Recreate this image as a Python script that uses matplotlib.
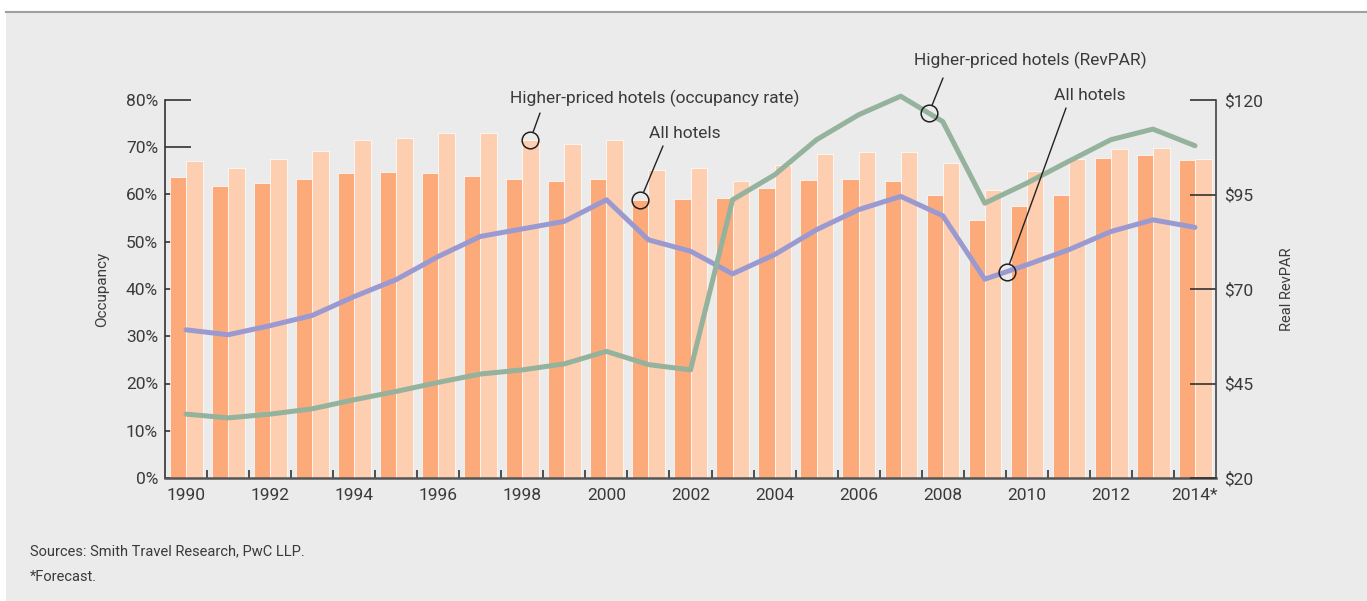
import numpy as np
import matplotlib.pyplot as plt
from matplotlib.patches import Rectangle
from matplotlib.lines import Line2D

plt.rcParams['font.family'] = ['Roboto', 'DejaVu Sans']

anios = list(range(1990, 2015))
etiquetas = ['1990', '1992', '1994', '1996', '1998', '2000', '2002',
             '2004', '2006', '2008', '2010', '2012', '2014*']

# ocupacion (%)
ocup_todos = [63.7, 61.8, 62.4, 63.3, 64.6, 64.8, 64.6, 64.0, 63.3, 62.9,
              63.3, 58.9, 59.1, 59.3, 61.4, 63.1, 63.3, 62.9, 59.9, 54.6,
              57.6, 59.9, 67.8, 68.4, 67.2]
ocup_alto = [67.0, 65.7, 67.6, 69.2, 71.5, 71.9, 73.0, 73.0, 71.6, 70.7,
             71.6, 65.2, 65.7, 62.9, 66.3, 68.6, 68.9, 68.9, 66.6, 61.0,
             65.0, 67.6, 69.7, 69.9, 67.6]

# RevPAR real ($)
revpar_todos = [59.2, 57.9, 60.3, 63.0, 68.0, 72.5, 78.6, 83.9, 85.9, 87.9,
                93.6, 83.0, 80.0, 74.0, 79.1, 85.7, 91.0, 94.5, 89.4, 72.6,
                76.4, 80.4, 85.2, 88.3, 86.3]
revpar_alto = [36.9, 35.9, 36.9, 38.3, 40.7, 42.9, 45.3, 47.5, 48.6, 50.2,
               53.5, 50.0, 48.6, 93.6, 100.2, 109.5, 116.1, 121.0, 114.3, 92.7,
               98.0, 103.8, 109.5, 112.3, 107.9]

c_oscuro = '#fcaa7a'
c_claro = '#fdceb0'
c_azul = '#9a9ad0'
c_verde = '#94b29c'
c_texto = '#3a3a3a'

W, H = 1367, 601
fig = plt.figure(figsize=(W / 100, H / 100), dpi=100, facecolor='white')

# fondo gris con linea superior
fig.patches.append(Rectangle((6 / W, 0), 1 - 6 / W, 1 - 12 / H,
                             transform=fig.transFigure, facecolor='#ebebeb',
                             edgecolor='none', zorder=-10))
fig.lines.append(Line2D([6 / W, 1], [1 - 12 / H, 1 - 12 / H],
                        transform=fig.transFigure, color='#a0a0a0', lw=1.5))

ax = fig.add_axes([165 / W, 1 - 478 / H, (1216 - 165) / W, (478 - 100) / H])
ax.patch.set_visible(False)
x = np.arange(len(anios))

ax.bar(x, ocup_todos, width=-0.385, align='edge', color=c_oscuro,
       edgecolor='white', linewidth=0.5, zorder=2)
ax.bar(x, ocup_alto, width=0.395, align='edge', color=c_claro,
       edgecolor='white', linewidth=0.5, zorder=2)

ax.set_xlim(-0.5, 24.5)
ax.set_ylim(0, 80)
ax.set_axisbelow(True)
for s in ['top', 'right']:
    ax.spines[s].set_visible(False)
ax.spines['left'].set_color('#333333')
ax.spines['left'].set_linewidth(1.2)
ax.spines['bottom'].set_color('#555555')
ax.spines['bottom'].set_linewidth(1.8)

ax.set_yticks(range(0, 81, 10))
ax.set_yticklabels([f'{v}%' for v in range(0, 81, 10)])
ax.tick_params(axis='y', direction='in', length=19, width=1.2,
               color='#333333', labelsize=12.5, labelcolor=c_texto, pad=5)
ax.set_xticks(range(0, 25, 2))
ax.set_xticklabels(etiquetas)
ax.set_xticks(np.arange(0.5, 24, 1), minor=True)
ax.tick_params(axis='x', which='major', length=0, labelsize=12.5,
               labelcolor=c_texto, pad=7)
ax.tick_params(axis='x', which='minor', direction='in', length=6,
               width=1.2, color='#333333')
ax.set_ylabel('Occupancy', fontsize=11, color=c_texto, labelpad=12)

ax2 = ax.twinx()
ax2.set_ylim(20, 120)
ax2.set_xlim(-0.5, 24.5)
for s in ['top', 'left', 'bottom']:
    ax2.spines[s].set_visible(False)
ax2.spines['right'].set_color('#444444')
ax2.spines['right'].set_linewidth(1.2)
ax2.set_yticks([20, 45, 70, 95, 120])
ax2.set_yticklabels(['$20', '$45', '$70', '$95', '$120'])
ax2.tick_params(axis='y', direction='in', length=19, width=1.2,
                color='#333333', labelsize=12.5, labelcolor=c_texto, pad=6)
ax2.set_ylabel('Real RevPAR', fontsize=10.5, color=c_texto, labelpad=12)

ax2.plot(x, revpar_todos, color=c_azul, lw=3.6, solid_capstyle='round',
         solid_joinstyle='round', clip_on=False, zorder=3)
ax2.plot(x, revpar_alto, color=c_verde, lw=3.6, solid_capstyle='round',
         solid_joinstyle='round', clip_on=False, zorder=3)

# marcas de anotacion: (eje, x, y, punto final de la guia en pixeles, texto, centro del texto)
xa = 17.67
xb = 19.52
marcas = [
    (ax, 8 + 0.19, ocup_alto[8], (540, 113),
     'Higher-priced hotels (occupancy rate)', (655, 98)),
    (ax, 11 - 0.19, ocup_todos[11], (663, 146), 'All hotels', (685, 133)),
    (ax2, xa, np.interp(xa, x, revpar_alto), (943, 78),
     'Higher-priced hotels (RevPAR)', (1030, 60)),
    (ax2, xb, np.interp(xb, x, revpar_todos), (1066, 108),
     'All hotels', (1090, 95)),
]
for eje, mx, my, fin, texto, centro in marcas:
    eje.plot(mx, my, 'o', mfc='none', mec='#222222', mew=1.1, ms=12,
             zorder=5, clip_on=False)
    eje.annotate('', xy=(mx, my), xycoords='data',
                 xytext=(fin[0], H - fin[1]), textcoords='figure pixels',
                 arrowprops=dict(arrowstyle='-', color='#222222', lw=1.0,
                                 shrinkA=0, shrinkB=6), zorder=5)
    fig.text(centro[0] / W, 1 - centro[1] / H, texto, fontsize=12.5,
             color=c_texto, ha='center', va='center')

fig.text(30 / W, 1 - 551 / H, 'Sources: Smith Travel Research, PwC LLP.',
         fontsize=10.5, color=c_texto, va='center')
fig.text(30 / W, 1 - 577 / H, '*Forecast.', fontsize=10.5, color=c_texto,
         va='center')

fig.savefig('out.png', dpi=100, facecolor=fig.get_facecolor())
